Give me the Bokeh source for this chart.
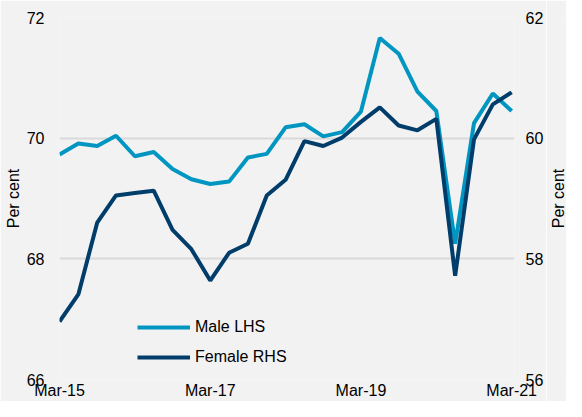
from bokeh.plotting import figure
from bokeh.layouts import row
from bokeh.models import Range1d, LinearAxis, FixedTicker, Legend, LegendItem, ColumnDataSource
from bokeh.embed import file_html
from bokeh.resources import INLINE

# ---- data (quarterly, Mar-15 .. Mar-21) ----
quarters = ["Mar-15", "Jun-15", "Sep-15", "Dec-15",
            "Mar-16", "Jun-16", "Sep-16", "Dec-16",
            "Mar-17", "Jun-17", "Sep-17", "Dec-17",
            "Mar-18", "Jun-18", "Sep-18", "Dec-18",
            "Mar-19", "Jun-19", "Sep-19", "Dec-19",
            "Mar-20", "Jun-20", "Sep-20", "Dec-20",
            "Mar-21"]
male_lhs = [69.73, 69.91, 69.87, 70.04, 69.70, 69.77, 69.49, 69.32, 69.24, 69.28,
            69.68, 69.74, 70.18, 70.23, 70.03, 70.10, 70.44, 71.66, 71.40, 70.77,
            70.45, 68.25, 70.25, 70.74, 70.45]
female_rhs = [56.96, 57.41, 58.60, 59.05, 59.09, 59.13, 58.48, 58.16, 57.64, 58.10,
              58.25, 59.05, 59.31, 59.95, 59.87, 60.01, 60.27, 60.51, 60.21, 60.13,
              60.32, 57.72, 59.98, 60.56, 60.76]
x_tick_labels = ["Mar-15", "Mar-17", "Mar-19", "Mar-21"]
left_ticks = [66, 68, 70, 72]
right_ticks = [56, 58, 60, 62]
axis_title = "Per cent"

BG = "#F2F2F2"
MALE_C = "#0096C1"
FEMALE_C = "#003D6B"
FONT = "Liberation Sans"

idx = list(range(len(quarters)))
tick_pos = [quarters.index(t) for t in x_tick_labels]
src = ColumnDataSource(dict(x=idx, male=male_lhs, female=female_rhs))

X_MAX = 24.15
p = figure(width=546, height=401, output_backend="svg", toolbar_location=None,
           x_range=Range1d(0, X_MAX), y_range=Range1d(66, 72),
           min_border_left=59, min_border_right=29, min_border_top=17, min_border_bottom=20)
p.extra_y_ranges = {"right": Range1d(56, 62)}
p.background_fill_color = BG
p.border_fill_color = BG
p.outline_line_color = None

# axes
p.xaxis.ticker = FixedTicker(ticks=tick_pos)
p.xaxis.major_label_overrides = {i: quarters[i] for i in tick_pos}
p.yaxis.ticker = FixedTicker(ticks=left_ticks)
p.yaxis.axis_label = axis_title

right_axis = LinearAxis(y_range_name="right", ticker=FixedTicker(ticks=right_ticks))
p.add_layout(right_axis, "right")


def style_axis(ax):
    ax.axis_line_color = None
    ax.major_tick_line_color = None
    ax.minor_tick_line_color = None
    ax.major_tick_out = 0
    ax.major_tick_in = 0
    ax.major_label_text_font = FONT
    ax.major_label_text_font_size = "16px"
    ax.major_label_text_color = "#000000"
    ax.axis_label_text_font = FONT
    ax.axis_label_text_font_size = "16px"
    ax.axis_label_text_font_style = "normal"
    ax.axis_label_text_color = "#000000"


for ax in [p.xaxis[0], p.yaxis[0], right_axis]:
    style_axis(ax)

p.xaxis.major_label_standoff = 2
p.yaxis.major_label_standoff = 15
p.yaxis.axis_label_standoff = 2
right_axis.major_label_standoff = 11

p.xgrid.grid_line_color = None
p.ygrid.grid_line_color = "#D9D9D9"
p.ygrid.grid_line_width = 2
p.ygrid.ticker = FixedTicker(ticks=left_ticks)

r_m = p.line("x", "male", source=src, color=MALE_C, line_width=4)
r_f = p.line("x", "female", source=src, color=FEMALE_C, line_width=4, y_range_name="right")

legend = Legend(items=[LegendItem(label="Male LHS", renderers=[r_m]),
                       LegendItem(label="Female RHS", renderers=[r_f])],
                location=(78, 12))
legend.background_fill_alpha = 0
legend.border_line_color = None
legend.padding = 0
legend.margin = 0
legend.spacing = 10
legend.glyph_width = 53
legend.glyph_height = 20
legend.label_height = 20
legend.label_standoff = 5
legend.label_text_font = FONT
legend.label_text_font_size = "16px"
legend.label_text_color = "#000000"
p.add_layout(legend, "center")

# narrow strip carrying the right-hand axis title (reads bottom to top like the left one)
p2 = figure(width=20, height=401, output_backend="svg", toolbar_location=None,
            x_range=Range1d(0, 1), y_range=Range1d(56, 62),
            min_border_left=0, min_border_right=0, min_border_top=17, min_border_bottom=21)
p2.background_fill_color = BG
p2.border_fill_color = BG
p2.outline_line_color = None
p2.xaxis.visible = False
p2.grid.visible = False
p2.yaxis.ticker = FixedTicker(ticks=[])
p2.yaxis.axis_label = axis_title
style_axis(p2.yaxis[0])
p2.yaxis.axis_label_standoff = -4

layout = row(p, p2, spacing=0)

html = file_html(layout, INLINE)
html = html.replace("<body>", '<body style="background:#F2F2F2">', 1)
open("out.html", "w").write(html)
